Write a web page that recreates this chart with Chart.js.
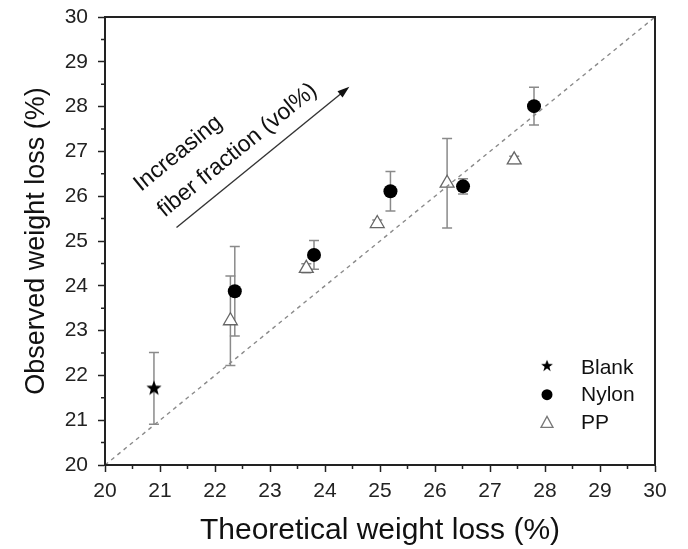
<!DOCTYPE html>
<html>
<head>
<meta charset="utf-8">
<script src="https://cdn.jsdelivr.net/npm/chart.js@4.4.1/dist/chart.umd.min.js"></script>
<style>
  html, body { margin: 0; padding: 0; background: #fff; }
  #wrap { width: 688px; height: 549px; }
</style>
</head>
<body>
<div id="wrap"><canvas id="myChart" width="688" height="549"></canvas></div>
<script>
// data
var blankX = [20.89];
var blankY = [21.71];
var blankErr = [0.8];

var nylonX = [22.36, 23.8, 25.19, 26.51, 27.8];
var nylonY = [23.88, 24.69, 26.11, 26.22, 28.01];
var nylonErr = [1.0, 0.32, 0.44, 0.17, 0.42];

var ppX = [22.28, 23.66, 24.95, 26.22, 27.44];
var ppY = [23.22, 24.39, 25.39, 26.29, 26.81];
var ppErr = [1.0, 0.1, 0.08, 1.0, 0.08];

var axisTicks = [20, 21, 22, 23, 24, 25, 26, 27, 28, 29, 30];

var FONT = '"Liberation Sans", Arial, sans-serif';

function pts(xs, ys) {
    return xs.map(function (x, i) { return { x: x, y: ys[i] }; });
}

// filled star marker (chart.js 'star' is only strokes)
function makeStar(r) {
    var c = document.createElement('canvas');
    c.width = r * 2 + 2; c.height = r * 2 + 2;
    var g = c.getContext('2d');
    g.translate(r + 1, r + 1);
    g.beginPath();
    for (var i = 0; i < 10; i++) {
        var rad = i % 2 === 0 ? r : r * 0.42;
        var a = -Math.PI / 2 + i * Math.PI / 5;
        g.lineTo(rad * Math.cos(a), rad * Math.sin(a));
    }
    g.closePath();
    g.fillStyle = '#000';
    g.fill();
    return c;
}
var starImg = makeStar(8);

var errorBars = {
    id: 'errorBars',
    beforeDatasetsDraw: function (chart) {
        var ctx = chart.ctx, xs = chart.scales.x, ys = chart.scales.y;
        ctx.save();
        ctx.strokeStyle = '#8a8a8a';
        ctx.lineWidth = 1.5;
        chart.data.datasets.forEach(function (ds) {
            if (!ds.err) return;
            ds.data.forEach(function (p, i) {
                var px = xs.getPixelForValue(p.x);
                var top = ys.getPixelForValue(p.y + ds.err[i]);
                var bot = ys.getPixelForValue(p.y - ds.err[i]);
                ctx.beginPath();
                ctx.moveTo(px, top); ctx.lineTo(px, bot);
                ctx.moveTo(px - 5, top); ctx.lineTo(px + 5, top);
                ctx.moveTo(px - 5, bot); ctx.lineTo(px + 5, bot);
                ctx.stroke();
            });
        });
        ctx.restore();
    }
};

var frameAndExtras = {
    id: 'frameAndExtras',
    afterDraw: function (chart) {
        var ctx = chart.ctx, a = chart.chartArea;
        var xs = chart.scales.x, ys = chart.scales.y;
        ctx.save();
        // box
        ctx.strokeStyle = '#222';
        ctx.lineWidth = 2;
        ctx.strokeRect(a.left, a.top, a.right - a.left, a.bottom - a.top);
        // minor ticks
        ctx.lineWidth = 1.5;
        ctx.beginPath();
        for (var v = 20.5; v < 30; v += 1) {
            var px = xs.getPixelForValue(v);
            ctx.moveTo(px, a.bottom); ctx.lineTo(px, a.bottom + 4);
            var py = ys.getPixelForValue(v);
            ctx.moveTo(a.left, py); ctx.lineTo(a.left - 4, py);
        }
        ctx.stroke();

        // arrow annotation
        var x0 = xs.getPixelForValue(21.3), y0 = ys.getPixelForValue(25.3);
        var x1 = xs.getPixelForValue(24.4), y1 = ys.getPixelForValue(28.4);
        var ang = Math.atan2(y1 - y0, x1 - x0);
        ctx.strokeStyle = '#333';
        ctx.fillStyle = '#111';
        ctx.lineWidth = 1.4;
        ctx.beginPath();
        ctx.moveTo(x0, y0); ctx.lineTo(x1, y1);
        ctx.stroke();
        ctx.save();
        ctx.translate(x1, y1);
        ctx.rotate(ang);
        ctx.beginPath();
        ctx.moveTo(3, 0); ctx.lineTo(-9, -4); ctx.lineTo(-9, 4);
        ctx.closePath();
        ctx.fill();
        ctx.restore();

        ctx.save();
        ctx.translate(x0, y0);
        ctx.rotate(ang);
        ctx.fillStyle = '#111';
        ctx.font = '23px ' + FONT;
        ctx.textBaseline = 'alphabetic';
        ctx.fillText('Increasing', -5, -50);
        ctx.fillText('fiber fraction (vol%)', -3, -15);
        ctx.restore();

        // legend
        var lx = a.right - 108, ly = a.bottom - 98;
        var items = [
            { label: 'Blank', kind: 'star' },
            { label: 'Nylon', kind: 'circle' },
            { label: 'PP', kind: 'tri' }
        ];
        ctx.font = '21px ' + FONT;
        ctx.textBaseline = 'middle';
        items.forEach(function (it, i) {
            var cy = ly + i * 27.7;
            if (it.kind === 'star') {
                ctx.drawImage(starImg, lx - 7, cy - 8, 14, 14);
            } else if (it.kind === 'circle') {
                ctx.beginPath();
                ctx.arc(lx, cy, 5.5, 0, Math.PI * 2);
                ctx.fillStyle = '#000';
                ctx.fill();
            } else {
                ctx.beginPath();
                ctx.moveTo(lx, cy - 6); ctx.lineTo(lx + 6, cy + 5); ctx.lineTo(lx - 6, cy + 5);
                ctx.closePath();
                ctx.fillStyle = '#fff';
                ctx.fill();
                ctx.strokeStyle = '#777';
                ctx.lineWidth = 1.3;
                ctx.stroke();
            }
            ctx.fillStyle = '#111';
            ctx.fillText(it.label, lx + 34, cy + 1);
        });
        ctx.restore();
    }
};

var ctx = document.getElementById('myChart');

var myChart = new Chart(ctx, {
    type: 'scatter',
    data: {
        datasets: [
            {
                type: 'line',
                label: 'y = x',
                data: [{ x: 20, y: 20 }, { x: 30, y: 30 }],
                borderColor: '#8a8a8a',
                borderWidth: 1.4,
                borderDash: [4, 4],
                pointRadius: 0,
                fill: false
            },
            {
                label: 'Blank',
                data: pts(blankX, blankY),
                err: blankErr,
                pointStyle: starImg,
                pointRadius: 8
            },
            {
                label: 'Nylon',
                data: pts(nylonX, nylonY),
                err: nylonErr,
                pointStyle: 'circle',
                pointRadius: 7,
                backgroundColor: '#000',
                borderColor: '#000',
                borderWidth: 0
            },
            {
                label: 'PP',
                data: pts(ppX, ppY),
                err: ppErr,
                pointStyle: 'triangle',
                pointRadius: 8,
                backgroundColor: '#fff',
                borderColor: '#666',
                borderWidth: 1.3
            }
        ]
    },
    options: {
        responsive: false,
        animation: false,
        layout: { padding: { left: 0, right: 33, top: 17, bottom: 0 } },
        plugins: {
            legend: { display: false },
            tooltip: { enabled: false }
        },
        scales: {
            x: {
                type: 'linear',
                min: 20, max: 30,
                afterBuildTicks: function (s) { s.ticks = axisTicks.map(function (v) { return { value: v }; }); },
                afterFit: function (s) { s.height = 84; s.paddingLeft = 0; s.paddingRight = 0; },
                grid: { drawOnChartArea: false, tickLength: 7, tickColor: '#222', tickWidth: 1.5 },
                border: { display: true, color: '#222', width: 2 },
                ticks: { color: '#222', padding: 7, maxRotation: 0, font: { size: 21, family: FONT } },
                title: {
                    display: true, text: 'Theoretical weight loss (%)', color: '#111',
                    font: { size: 30, family: FONT },
                    padding: { top: 4, bottom: 0 }
                }
            },
            y: {
                type: 'linear',
                min: 20, max: 30,
                afterBuildTicks: function (s) { s.ticks = axisTicks.map(function (v) { return { value: v }; }); },
                afterFit: function (s) { s.width = 105; s.paddingTop = 0; s.paddingBottom = 0; },
                grid: { drawOnChartArea: false, tickLength: 7, tickColor: '#222', tickWidth: 1.5 },
                border: { display: true, color: '#222', width: 2 },
                ticks: { color: '#222', padding: 10, font: { size: 21, family: FONT } },
                title: {
                    display: true, text: 'Observed weight loss (%)', color: '#111',
                    font: { size: 27, family: FONT },
                    padding: { top: 20, bottom: 4 }
                }
            }
        }
    },
    plugins: [errorBars, frameAndExtras]
});
</script>
</body>
</html>
